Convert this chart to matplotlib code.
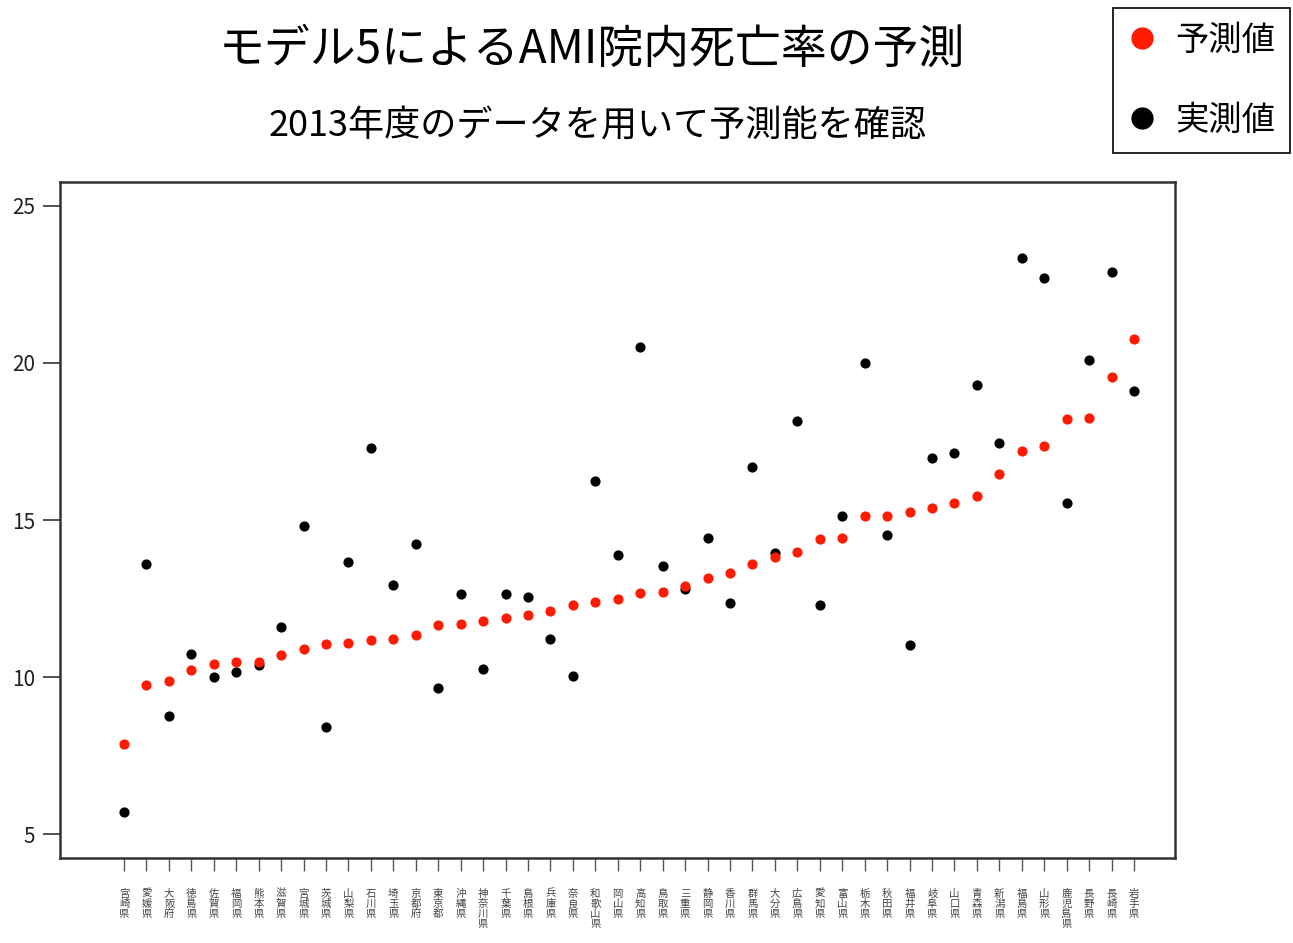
import matplotlib
matplotlib.use("Agg")
import matplotlib.pyplot as plt
from matplotlib.lines import Line2D

plt.rcParams['font.family'] = ['Noto Sans CJK JP', 'DejaVu Sans']

# prefectures, sorted by predicted value
prefectures = ['宮崎県', '愛媛県', '大阪府', '徳島県', '佐賀県', '福岡県', '熊本県', '滋賀県',
               '宮城県', '茨城県', '山梨県', '石川県', '埼玉県', '京都府', '東京都', '沖縄県',
               '神奈川県', '千葉県', '島根県', '兵庫県', '奈良県', '和歌山県', '岡山県', '高知県',
               '鳥取県', '三重県', '静岡県', '香川県', '群馬県', '大分県', '広島県', '愛知県',
               '富山県', '栃木県', '秋田県', '福井県', '岐阜県', '山口県', '青森県', '新潟県',
               '福島県', '山形県', '鹿児島県', '長野県', '長崎県', '岩手県']

predicted = [7.87, 9.74, 9.86, 10.21, 10.41, 10.47, 10.47, 10.69,
             10.90, 11.05, 11.08, 11.19, 11.21, 11.34, 11.66, 11.68,
             11.80, 11.89, 11.99, 12.09, 12.29, 12.40, 12.47, 12.69,
             12.71, 12.89, 13.16, 13.30, 13.59, 13.81, 13.98, 14.38,
             14.43, 15.14, 15.14, 15.24, 15.37, 15.54, 15.75, 16.45,
             17.21, 17.36, 18.22, 18.25, 19.56, 20.75]

actual = [5.70, 13.59, 8.75, 10.72, 10.00, 10.17, 10.39, 11.61,
          14.81, 8.40, 13.66, 17.29, 12.93, 14.24, 9.64, 12.65,
          10.25, 12.65, 12.54, 11.20, 10.03, 16.25, 13.88, 20.51,
          13.54, 12.79, 14.42, 12.36, 16.70, 13.95, 18.15, 12.29,
          15.12, 20.00, 14.52, 11.01, 16.96, 17.14, 19.31, 17.46,
          23.33, 22.69, 15.53, 20.08, 22.90, 19.11]

y_ticks = [5, 10, 15, 20, 25]

fig = plt.figure(figsize=(12.93, 9.43), dpi=100)
ax = fig.add_axes([0.0464, 0.0901, 0.8624, 0.7169])

x = list(range(1, len(prefectures) + 1))
ax.scatter(x, actual, s=40, color='black', zorder=3)
ax.scatter(x, predicted, s=40, color='#ff1a00', zorder=4)

ax.set_xlim(-1.85, 47.83)
ax.set_ylim(4.24, 25.76)
ax.set_yticks(y_ticks)
ax.set_yticklabels([str(v) for v in y_ticks], fontsize=15, color='#222222')
ax.set_xticks(x)
ax.set_xticklabels(['\n'.join(p) for p in prefectures], fontsize=7.5, linespacing=1.0,
                   color='#444444', va='top')
ax.tick_params(axis='y', length=12, width=1.2, pad=6, colors='#333333', labelcolor='#222222')
ax.tick_params(axis='x', length=9, width=1.0, pad=13, colors='#555555', labelcolor='#444444')
for sp in ax.spines.values():
    sp.set_linewidth(1.8)
    sp.set_color('#333333')

fig.text(592 / 1293, 1 - 50 / 943, 'モデル5によるAMI院内死亡率の予測', fontsize=33,
         ha='center', va='center')
fig.text(598 / 1293, 1 - 126 / 943, '2013年度のデータを用いて予測能を確認', fontsize=26,
         ha='center', va='center')

handles = [Line2D([], [], marker='o', linestyle='none', color='#ff1a00', markersize=15),
           Line2D([], [], marker='o', linestyle='none', color='black', markersize=15)]
leg = fig.legend(handles, ['予測値', '実測値'], loc='upper right',
                 bbox_to_anchor=(1290 / 1293, 1 - 8 / 943), fontsize=24,
                 frameon=True, fancybox=False, edgecolor='black', framealpha=1,
                 handlelength=0.8, handletextpad=0.6, labelspacing=1.35,
                 borderpad=0.45, borderaxespad=0)
leg.get_frame().set_linewidth(1.2)

fig.savefig('out.png', dpi=100)
